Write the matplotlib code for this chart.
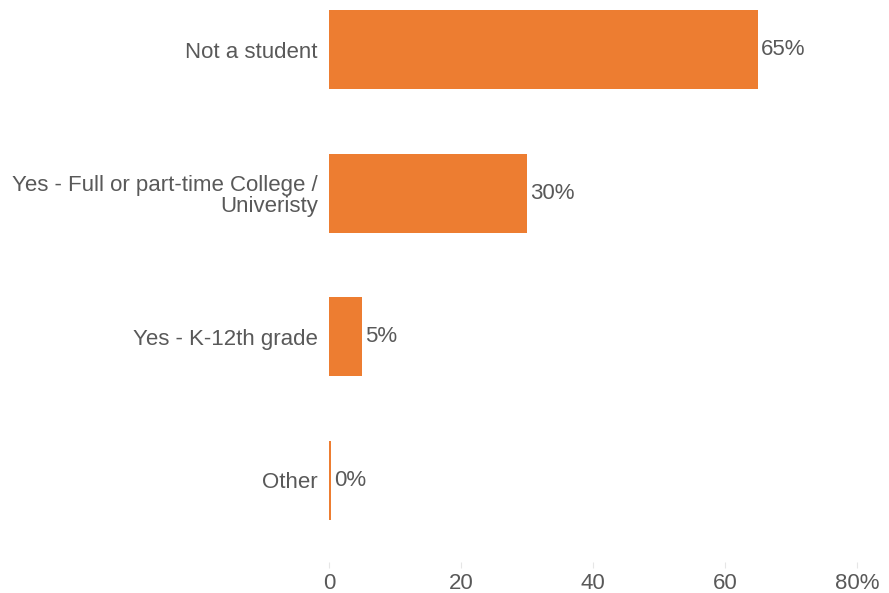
import matplotlib
matplotlib.use("Agg")
import matplotlib.pyplot as plt
from matplotlib.ticker import FixedLocator, FixedFormatter

categories = ["Not a student",
              "Yes - Full or part-time College /\nUniveristy",
              "Yes - K-12th grade",
              "Other"]
values = [65, 30, 5, 0.3]
value_labels = ["65%", "30%", "5%", "0%"]
xticks = [0, 20, 40, 60, 80]
xtick_labels = ["0", "20", "40", "60", "80%"]

bar_color = "#ED7D31"
text_color = "#595959"

plt.rcParams["font.family"] = ["Liberation Sans", "DejaVu Sans"]

fig = plt.figure(figsize=(8.89, 5.93), dpi=100)
ax = fig.add_axes([329 / 889, 1 - 562 / 593, (857 - 329) / 889, 562 / 593])

pos = list(range(len(categories)))
ax.barh(pos, values, height=0.55, color=bar_color)

for p, v, lab in zip(pos, values, value_labels):
    ax.text(v + 0.5, p, lab, va="center", ha="left", fontsize=16, color=text_color)

ax.set_xlim(0, 80)
ax.set_ylim(3.57, -0.346)

ax.set_yticks(pos)
ax.set_yticklabels(categories, fontsize=16, color=text_color, ha="right",
                   multialignment="right", linespacing=1.05)
ax.tick_params(axis="y", length=0, pad=8)

ax.xaxis.set_major_locator(FixedLocator(xticks))
ax.xaxis.set_major_formatter(FixedFormatter(xtick_labels))
ax.tick_params(axis="x", length=4, color="#E6E6E6", labelsize=16,
               labelcolor=text_color, pad=4)

for s in ax.spines.values():
    s.set_visible(False)

fig.savefig("out.png", dpi=100)
